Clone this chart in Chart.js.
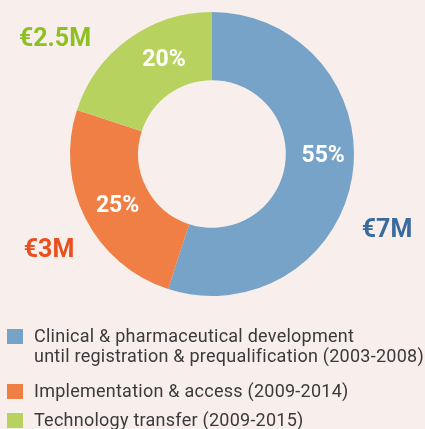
<!DOCTYPE html>
<html>
<head>
<meta charset="utf-8">
<script src="https://cdn.jsdelivr.net/npm/chart.js@4.4.1/dist/chart.umd.min.js"></script>
<style>
  html, body { margin: 0; padding: 0; background: #F8EFED; }
  #wrap { width: 425px; height: 429px; position: relative; }
</style>
</head>
<body>
<div id="wrap"><canvas id="fundChart" width="425" height="429"></canvas></div>
<script>
const PHASES = [
  ["Clinical & pharmaceutical development", "until registration & prequalification (2003-2008)"],
  ["Implementation & access (2009-2014)"],
  ["Technology transfer (2009-2015)"]
];
const SHARES = [55, 25, 20];
const AMOUNTS = ["€7M", "€3M", "€2.5M"];

const COLORS = {
  slice: ["#78A3C8", "#F07F45", "#B7D25E"],
  amount: ["#3A6A9E", "#E8501E", "#8DC021"],
  bg: "#F8EFED",
  text: "#3A3A3A"
};
const FONT = "Roboto, 'DejaVu Sans', sans-serif";

// label tweaks relative to each slice (angle shift in degrees, radius factor)
const PCT_NUDGE = [[-8, 1.03], [-2, 1.0], [9, 0.98]];
// amount labels: offset from doughnut centre
const AMOUNT_POS = [[175, 77], [-163, 97], [-157, -114]];

const sliceLabels = {
  id: "sliceLabels",
  afterDatasetsDraw(chart) {
    const { ctx } = chart;
    const meta = chart.getDatasetMeta(0);
    ctx.save();
    ctx.textAlign = "center";
    ctx.textBaseline = "middle";
    meta.data.forEach((arc, i) => {
      const p = arc.getProps(["x", "y", "startAngle", "endAngle", "innerRadius", "outerRadius"], true);
      const mid = (p.startAngle + p.endAngle) / 2 + PCT_NUDGE[i][0] * Math.PI / 180;
      const r = (p.innerRadius + p.outerRadius) / 2 * PCT_NUDGE[i][1];
      ctx.fillStyle = "#FFFFFF";
      ctx.font = `bold 23px ${FONT}`;
      ctx.fillText(SHARES[i] + "%", p.x + Math.cos(mid) * r, p.y + Math.sin(mid) * r);

      ctx.fillStyle = COLORS.amount[i];
      ctx.font = `bold 25px ${FONT}`;
      ctx.fillText(AMOUNTS[i], p.x + AMOUNT_POS[i][0], p.y + AMOUNT_POS[i][1]);
    });
    ctx.restore();
  }
};

const phaseLegend = {
  id: "phaseLegend",
  afterDraw(chart) {
    const { ctx } = chart;
    const rowsY = [337, 392, 421];
    ctx.save();
    ctx.textBaseline = "middle";
    ctx.textAlign = "left";
    ctx.font = `18px ${FONT}`;
    ctx.letterSpacing = "0.25px";
    PHASES.forEach((lines, i) => {
      ctx.fillStyle = COLORS.slice[i];
      ctx.fillRect(7, rowsY[i] - 8, 16, 15);
      ctx.fillStyle = COLORS.text;
      lines.forEach((line, j) => {
        ctx.fillText(line, 34, rowsY[i] + j * 20);
      });
    });
    ctx.restore();
  }
};

new Chart(document.getElementById("fundChart"), {
  type: "doughnut",
  data: {
    labels: PHASES.map((l) => l.join(" ")),
    datasets: [{
      data: SHARES,
      backgroundColor: COLORS.slice,
      borderWidth: 0
    }]
  },
  options: {
    responsive: false,
    animation: false,
    cutout: "52%",
    rotation: 0,
    layout: { padding: { top: 12, bottom: 133, left: 70, right: 71 } },
    plugins: {
      legend: { display: false },
      tooltip: { enabled: false }
    }
  },
  plugins: [sliceLabels, phaseLegend]
});
</script>
</body>
</html>
